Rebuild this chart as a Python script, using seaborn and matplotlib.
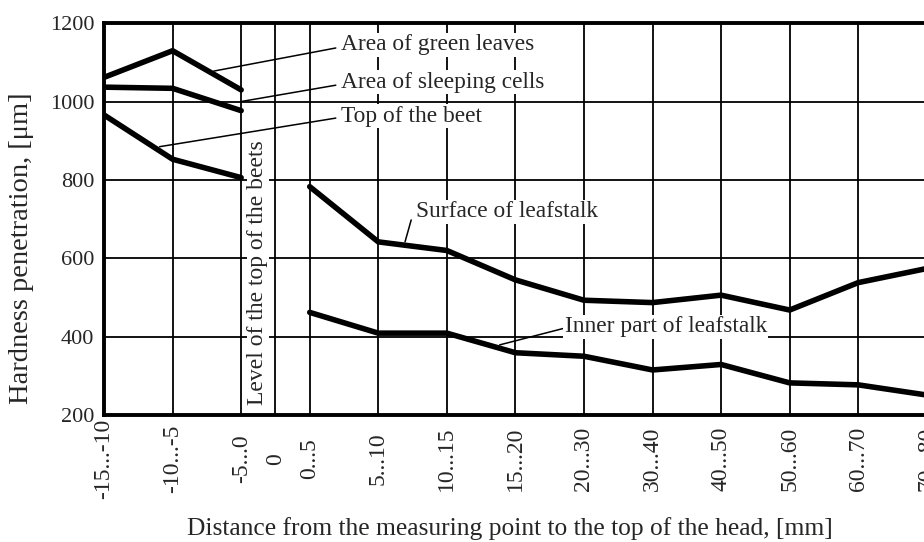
import numpy as np
import pandas as pd
import matplotlib
matplotlib.use("Agg")
import matplotlib.pyplot as plt
import seaborn as sns

# categories on the x axis (the "0" mark sits halfway between -5...0 and 0...5)
x_labels = ['-15...-10', '-10...-5', '-5...0', '0', '0...5', '5...10', '10...15',
            '15...20', '20...30', '30...40', '40...50', '50...60', '60...70', '70...80']
x_pos = [0, 1, 2, 2.5] + list(range(3, 13))
pos = dict(zip(x_labels, x_pos))

top_cats = ['-15...-10', '-10...-5', '-5...0']
green_leaves = [1062, 1130, 1030]
sleeping_cells = [1037, 1034, 977]
top_of_beet = [966, 853, 806]

stalk_cats = ['0...5', '5...10', '10...15', '15...20', '20...30', '30...40',
              '40...50', '50...60', '60...70', '70...80']
stalk_surface = [783, 642, 620, 545, 493, 487, 506, 468, 538, 574]
stalk_inner = [462, 409, 409, 359, 350, 315, 329, 282, 277, 251]

y_ticks = [200, 400, 600, 800, 1000, 1200]

sns.set_style("white")
plt.rcParams['font.family'] = ['Liberation Serif', 'DejaVu Serif']

fig = plt.figure(figsize=(9.24, 5.42), dpi=100)
ax = fig.add_axes([0.1126, 0.2343, 0.8874 + 0.003, 0.7227])

frames = []
for name, cats, vals in [('green', top_cats, green_leaves),
                         ('sleep', top_cats, sleeping_cells),
                         ('beet', top_cats, top_of_beet),
                         ('surface', stalk_cats, stalk_surface),
                         ('inner', stalk_cats, stalk_inner)]:
    frames.append(pd.DataFrame({'series': name, 'x': [pos[c] for c in cats], 'y': vals}))
df = pd.concat(frames)

sns.lineplot(data=df, x='x', y='y', units='series', estimator=None, color='black',
             linewidth=4.0, ax=ax, zorder=3, solid_joinstyle='miter')

ax.set_xlim(0, 12)
ax.set_ylim(200, 1200)
ax.set_xticks(x_pos)
ax.set_xticklabels(x_labels, rotation=90, fontsize=17, va='center', ha='center')
ax.set_yticks(y_ticks)
ax.set_yticklabels([str(v) for v in y_ticks], fontsize=16)
ax.tick_params(axis='x', length=0, pad=31.5)
ax.tick_params(axis='y', length=0, pad=7)
ax.grid(True, color='black', linewidth=1.3)
ax.set_axisbelow(True)
for side in ['left', 'bottom', 'top', 'right']:
    ax.spines[side].set_linewidth(2.8)
    ax.spines[side].set_color('black')

ax.set_xlabel('Distance from the measuring point to the top of the head, [mm]', fontsize=18.4)
ax.xaxis.label.set_va('center')
ax.xaxis.set_label_coords(0.4927, -0.29)
ax.set_ylabel('Hardness penetration, [\u03bcm]', fontsize=20.5)
ax.yaxis.label.set_va('center')
ax.yaxis.set_label_coords(-0.1, 0.426)

box = dict(facecolor='white', edgecolor='none', pad=1)
notes = [
    ('Area of green leaves', (3.45, 1145), (3.38, 1137), (1.6, 1078)),
    ('Area of sleeping cells', (3.45, 1050), (3.38, 1042), (1.99, 1000)),
    ('Top of the beet', (3.45, 963), (3.38, 958), (0.81, 885)),
]
for text, tpos, start, end in notes:
    ax.plot([start[0], end[0]], [start[1], end[1]], color='black', linewidth=1.1, zorder=4)
    ax.text(tpos[0], tpos[1], text, fontsize=16.8, va='center', ha='left', bbox=box, zorder=5)

ax.plot([4.48, 4.39], [698, 642], color='black', linewidth=1.1, zorder=4)
ax.text(4.55, 719, 'Surface of leafstalk', fontsize=16.8, va='center', ha='left', bbox=box, zorder=5)
ax.plot([6.70, 5.77], [421, 379], color='black', linewidth=1.1, zorder=4)
ax.text(6.72, 425, 'Inner part of leafstalk', fontsize=16.8, va='center', ha='left', bbox=box, zorder=5)

ax.text(2.245, 564, 'Level of the top of the beets', fontsize=17, rotation=90,
        va='center', ha='center', bbox=dict(facecolor='white', edgecolor='none', pad=0.5), zorder=5)

fig.savefig('out.png', dpi=100)
